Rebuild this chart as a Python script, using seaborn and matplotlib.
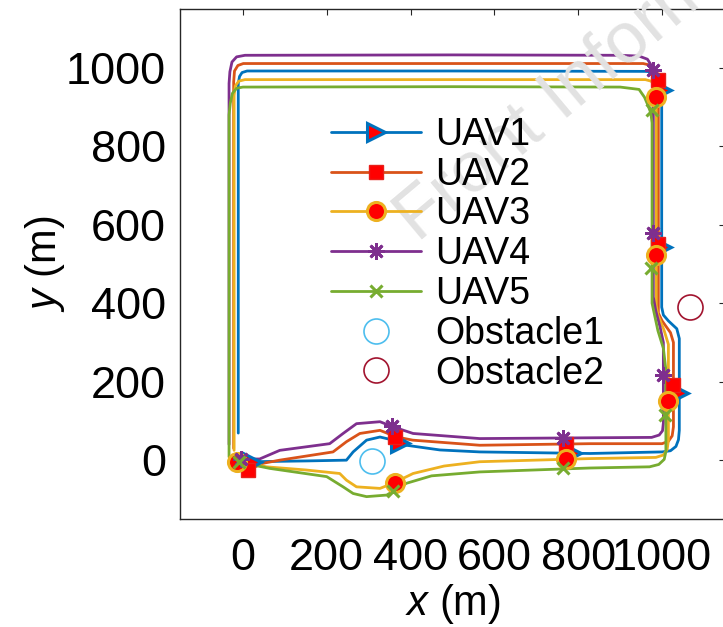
import matplotlib
matplotlib.use("Agg")
import matplotlib.pyplot as plt
from matplotlib.lines import Line2D
import seaborn as sns
import numpy as np

# ---------------- data ----------------
uav_names = ["UAV1", "UAV2", "UAV3", "UAV4", "UAV5"]
obstacle_names = ["Obstacle1", "Obstacle2"]

uav1_x = [21, 150, 247, 263, 295, 327, 359, 390, 470, 565, 828, 1000, 1020, 1033, 1039, 1041, 1041, 1035, 1015, 1003, 999, 999, 996, 988, 975, 960, 500, 10, -2, -8, -11, -11]
uav1_y = [-4, -2, 0, 21, 51, 59, 51, 38, 26, 21, 17, 21, 24, 35, 52, 76, 310, 335, 355, 370, 390, 950, 972, 985, 990, 991, 992, 992, 988, 978, 960, 69]

uav2_x = [13, 48, 88, 215, 247, 279, 327, 367, 405, 565, 828, 1000, 1015, 1024, 1027, 1027, 1020, 1000, 991, 991, 988, 975, 955, 500, 1, -12, -20, -22, -22]
uav2_y = [-25, -8, 0, 21, 47, 68, 76, 59, 51, 38, 42, 42, 48, 62, 85, 300, 325, 355, 375, 960, 990, 1006, 1011, 1011, 1011, 1006, 992, 964, 30]

uav3_x = [-15, 20, 56, 150, 231, 247, 271, 327, 358, 406, 480, 565, 828, 985, 1003, 1012, 1015, 1015, 1005, 990, 986, 986, 982, 974, 960, 500, 5, -10, -18, -21, -21]
uav3_y = [-4, -8, -17, -25, -34, -51, -68, -72, -59, -34, -15, -4, 4, 7, 13, 27, 50, 295, 330, 370, 395, 935, 955, 966, 970, 970, 970, 966, 954, 930, 25]

uav4_x = [-5, 40, 88, 207, 239, 271, 327, 358, 406, 565, 828, 975, 993, 1001, 1003, 1003, 995, 985, 979, 979, 975, 965, 945, 900, 500, 5, -15, -26, -31, -33, -33]
uav4_y = [3, 3, 25, 42, 68, 93, 98, 85, 68, 55, 57, 58, 64, 75, 95, 300, 340, 380, 416, 980, 1005, 1022, 1030, 1032, 1033, 1032, 1028, 1015, 990, 960, 40]

uav5_x = [-10, 64, 200, 239, 263, 295, 343, 390, 450, 565, 828, 970, 992, 1005, 1009, 1009, 1003, 990, 976, 976, 973, 966, 958, 945, 900, 500, 0, -15, -25, -30, -33, -33]
uav5_y = [-5, -21, -42, -68, -85, -93, -89, -59, -40, -30, -20, -17, -11, 2, 22, 230, 285, 330, 400, 860, 885, 905, 925, 945, 951, 952, 951, 948, 935, 910, 880, 8]

mk1_x = [21, 374, 785, 1041, 999, 999]
mk1_y = [-4, 44, 18, 171, 543, 943]
mk2_x = [13, 362, 770, 1027, 991, 991]
mk2_y = [-25, 60, 42, 191, 552, 969]
mk3_x = [-15, 362, 770, 1015, 986, 986]
mk3_y = [-4, -57, 4, 150, 523, 926]
mk4_x = [-5, 355, 763, 1003, 979, 979]
mk4_y = [3, 86, 57, 217, 578, 994]
mk5_x = [-10, 359, 763, 1007, 974, 975]
mk5_y = [-5, -79, -20, 115, 489, 892]

obstacle_x = [307, 1066]
obstacle_y = [-3, 391]

xticks = [0, 200, 400, 600, 800, 1000]
yticks = [0, 200, 400, 600, 800, 1000]

# ---------------- styling ----------------
sns.set_theme(style="white")
plt.rcParams["font.family"] = ["Liberation Sans", "DejaVu Sans"]
plt.rcParams["text.color"] = "black"
plt.rcParams["mathtext.fontset"] = "custom"
plt.rcParams["mathtext.rm"] = "Liberation Sans"
plt.rcParams["mathtext.it"] = "Liberation Sans:italic"

line_colors = ["#0072BD", "#D95319", "#EDB120", "#7E2F8E", "#77AC30"]
obstacle_colors = ["#4DBEEE", "#A2142F"]
markers = [">", "s", "o", (8, 2, 0), "x"]
marker_sizes = [13, 10.5, 13, 12, 9]
marker_faces = ["red", "red", "red", "#7E2F8E", "#77AC30"]
marker_edges = ["#0072BD", "#E8201A", "#EDB120", "#7E2F8E", "#77AC30"]
marker_ew = [2.2, 1.0, 2.2, 2.0, 2.2]

fig = plt.figure(figsize=(7.23, 6.27), dpi=100)
ax = fig.add_axes([180 / 723, (627 - 519) / 627, 545 / 723, 510 / 627])

# watermark (as in the reference, running off the top-right edge)
fig.text(418 / 723, 1 - 243 / 627, "Front Inform", rotation=40, rotation_mode="anchor",
         ha="left", va="baseline", fontsize=52, color="#e2e2e2", zorder=0)
ax.set_facecolor("none")

paths = [(uav1_x, uav1_y), (uav2_x, uav2_y), (uav3_x, uav3_y), (uav4_x, uav4_y), (uav5_x, uav5_y)]
mks = [(mk1_x, mk1_y), (mk2_x, mk2_y), (mk3_x, mk3_y), (mk4_x, mk4_y), (mk5_x, mk5_y)]

for i, (px, py) in enumerate(paths):
    sns.lineplot(x=px, y=py, sort=False, estimator=None, color=line_colors[i],
                 linewidth=2.0, ax=ax, legend=False)
for i, (mx, my) in enumerate(mks):
    ax.plot(mx, my, linestyle="none", marker=markers[i], markersize=marker_sizes[i],
            markerfacecolor=marker_faces[i], markeredgecolor=marker_edges[i],
            markeredgewidth=marker_ew[i], zorder=3)

for j in range(2):
    ax.plot([obstacle_x[j]], [obstacle_y[j]], linestyle="none", marker="o", markersize=18,
            markerfacecolor="none", markeredgecolor=obstacle_colors[j], markeredgewidth=1.2)

ax.set_xlim(-150, 1150)
ax.set_ylim(-150, 1150)
ax.set_xticks(xticks)
ax.set_yticks(yticks)
ax.set_xticklabels([str(t) for t in xticks])
ax.set_yticklabels([str(t) for t in yticks])
ax.tick_params(direction="in", length=4, width=0.8, colors="#262626", labelcolor="black",
               labelsize=32.5, top=True, right=True)
ax.tick_params(axis="y", pad=10)
ax.tick_params(axis="x", pad=14)
for s in ax.spines.values():
    s.set_visible(True)
    s.set_color("#262626")
    s.set_linewidth(1.0)

ax.set_xlabel("$x$ (m)", fontsize=30, labelpad=1.5, color="black")
ax.set_ylabel("$y$ (m)", fontsize=30, labelpad=-1, color="black")

# legend
handles = []
for i in range(5):
    handles.append(Line2D([0], [0], color=line_colors[i], linewidth=2.0, marker=markers[i],
                          markersize=marker_sizes[i], markerfacecolor=marker_faces[i],
                          markeredgecolor=marker_edges[i], markeredgewidth=marker_ew[i]))
for j in range(2):
    handles.append(Line2D([0], [0], linestyle="none", marker="o", markersize=18,
                          markerfacecolor="none", markeredgecolor=obstacle_colors[j],
                          markeredgewidth=1.2))
leg = fig.legend(handles, uav_names + obstacle_names, loc="upper left",
                 bbox_to_anchor=(331 / 723, 1 - 117 / 627), frameon=False, fontsize=27,
                 handlelength=2.4, handletextpad=0.38, labelspacing=0.1, borderpad=0,
                 borderaxespad=0, numpoints=1)
for t in leg.get_texts():
    t.set_color("black")

fig.savefig("out.png", dpi=100)
